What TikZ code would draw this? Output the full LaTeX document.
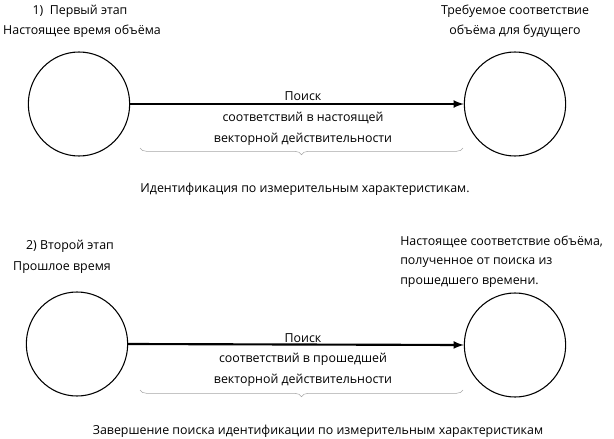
\documentclass[tikz,border=0pt]{standalone}
\usepackage{fontspec}
\setmainfont{Open Sans}
\usetikzlibrary{decorations.pathreplacing,shapes.geometric}
\tikzset{
  stage/.style={ellipse, draw, thick, minimum width=76pt, minimum height=78pt},
  txt/.style={font=\fontsize{9.3}{11}\selectfont, inner sep=0pt},
  search/.style={-latex, line width=1.6pt},
  span/.style={decorate, decoration={brace, mirror, amplitude=5pt}, gray!70, thin}
}
\begin{document}
\begin{tikzpicture}[x=0.75pt, y=-0.75pt]
  \useasboundingbox (0,0) rectangle (614,439);
  % Первый этап
  \node[txt] (h1) at (80,11) {1)\ \ Первый этап};
  \node[txt] (h1b) at (82,31) {Настоящее время объёма};
  \node[txt] (r1) at (515,11) {Требуемое соответствие};
  \node[txt] (r1b) at (515,31) {объёма для будущего};
  \node[stage] (c1) at (79,104) {};
  \node[stage] (c2) at (515,104) {};
  \draw[search] (c1.east) -- (c2.west);
  \node[txt] (p1) at (303,96) {Поиск};
  \node[txt] (p1b) at (303,118) {соответствий в настоящей};
  \node[txt] (p1c) at (303,139) {векторной действительности};
  \coordinate (b1s) at (140,148);
  \coordinate (b1e) at (463,148);
  \draw[span] (b1s) -- (b1e);
  \node[txt] (id1) at (305,189) {Идентификация по измерительным характеристикам.};

  % Второй этап
  \node[txt] (h2) at (70,246) {2) Второй этап};
  \node[txt] (h2b) at (62,268) {Прошлое время};
  \node[txt, anchor=west] (r2) at (400,242) {Настоящее соответствие объёма,};
  \node[txt, anchor=west] (r2b) at (400,263) {полученное от поиска из};
  \node[txt, anchor=west] (r2c) at (400,283) {прошедшего времени.};
  \node[stage] (c3) at (77,344) {};
  \node[stage] (c4) at (515,345) {};
  \draw[search] (c3.east) -- (c4.west);
  \node[txt] (p2) at (303,338) {Поиск};
  \node[txt] (p2b) at (303,359) {соответствий в прошедшей};
  \node[txt] (p2c) at (303,380) {векторной действительности};
  \coordinate (b2s) at (140,390);
  \coordinate (b2e) at (463,390);
  \draw[span] (b2s) -- (b2e);
  \node[txt] (id2) at (318,431) {Завершение поиска идентификации по измерительным характеристикам};
\end{tikzpicture}
\end{document}
